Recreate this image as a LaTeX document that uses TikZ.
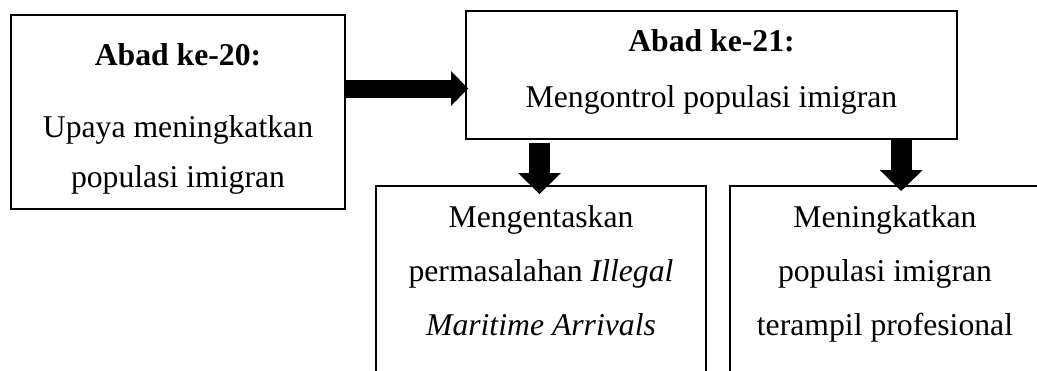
\documentclass[tikz,border=0pt]{standalone}
\usepackage{fontspec}
\setmainfont{Liberation Serif}
\usetikzlibrary{arrows.meta}
\begin{document}
\begin{tikzpicture}[x=1pt,y=-1pt,
  boxnode/.style={draw, line width=2pt, inner sep=0pt, outer sep=0pt},
  txt/.style={inner sep=0pt, outer sep=0pt, anchor=base, font=\fontsize{31.7pt}{38pt}\selectfont},
  harrow/.style={line width=18pt, -{Triangle[length=17pt,width=35pt,line width=0pt]}},
  varrow/.style={line width=21pt, -{Triangle[length=21pt,width=43pt,line width=0pt]}}]
\useasboundingbox (0,0) rectangle (1037,370);
\clip (0,0) rectangle (1037,370);
% boxes
\node[boxnode, minimum width=334pt, minimum height=194pt] (b20) at (178,112) {};
\node[boxnode, minimum width=491pt, minimum height=128pt] (b21) at (711.5,75) {};
\node[boxnode, minimum width=330pt, minimum height=234pt] (b3) at (541,303) {};
\node[boxnode, minimum width=330pt, minimum height=234pt] (b4) at (895,303) {};
% texts
\node[txt] (h20) at (178,65) {\textbf{Abad ke-20:}};
\node[txt] (u1) at (178,137) {Upaya meningkatkan};
\node[txt] (u2) at (178,187) {populasi imigran};
\node[txt] (h21) at (711.5,51) {\textbf{Abad ke-21:}};
\node[txt] (m1) at (711.5,107) {Mengontrol populasi imigran};
\node[txt] (e1) at (541,227) {Mengentaskan};
\node[txt] (e2) at (541,281) {permasalahan \textit{Illegal}};
\node[txt] (e3) at (541,335) {\textit{Maritime Arrivals}};
\node[txt] (p1) at (885,227) {Meningkatkan};
\node[txt] (p2) at (885,281) {populasi imigran};
\node[txt] (p3) at (885,335) {terampil profesional};
% arrows
\draw[harrow, shorten >=-2pt] (b20.east |- 0,88.5) -- (b21.west |- 0,88.5);
\draw[varrow, shorten <=4pt, shorten >=-8pt] (b21.south -| 539.5,0) -- (b3.north -| 539.5,0);
\draw[varrow, shorten >=-5pt] (b21.south -| 901.2,0) -- (b4.north -| 901.2,0);
\end{tikzpicture}
\end{document}
